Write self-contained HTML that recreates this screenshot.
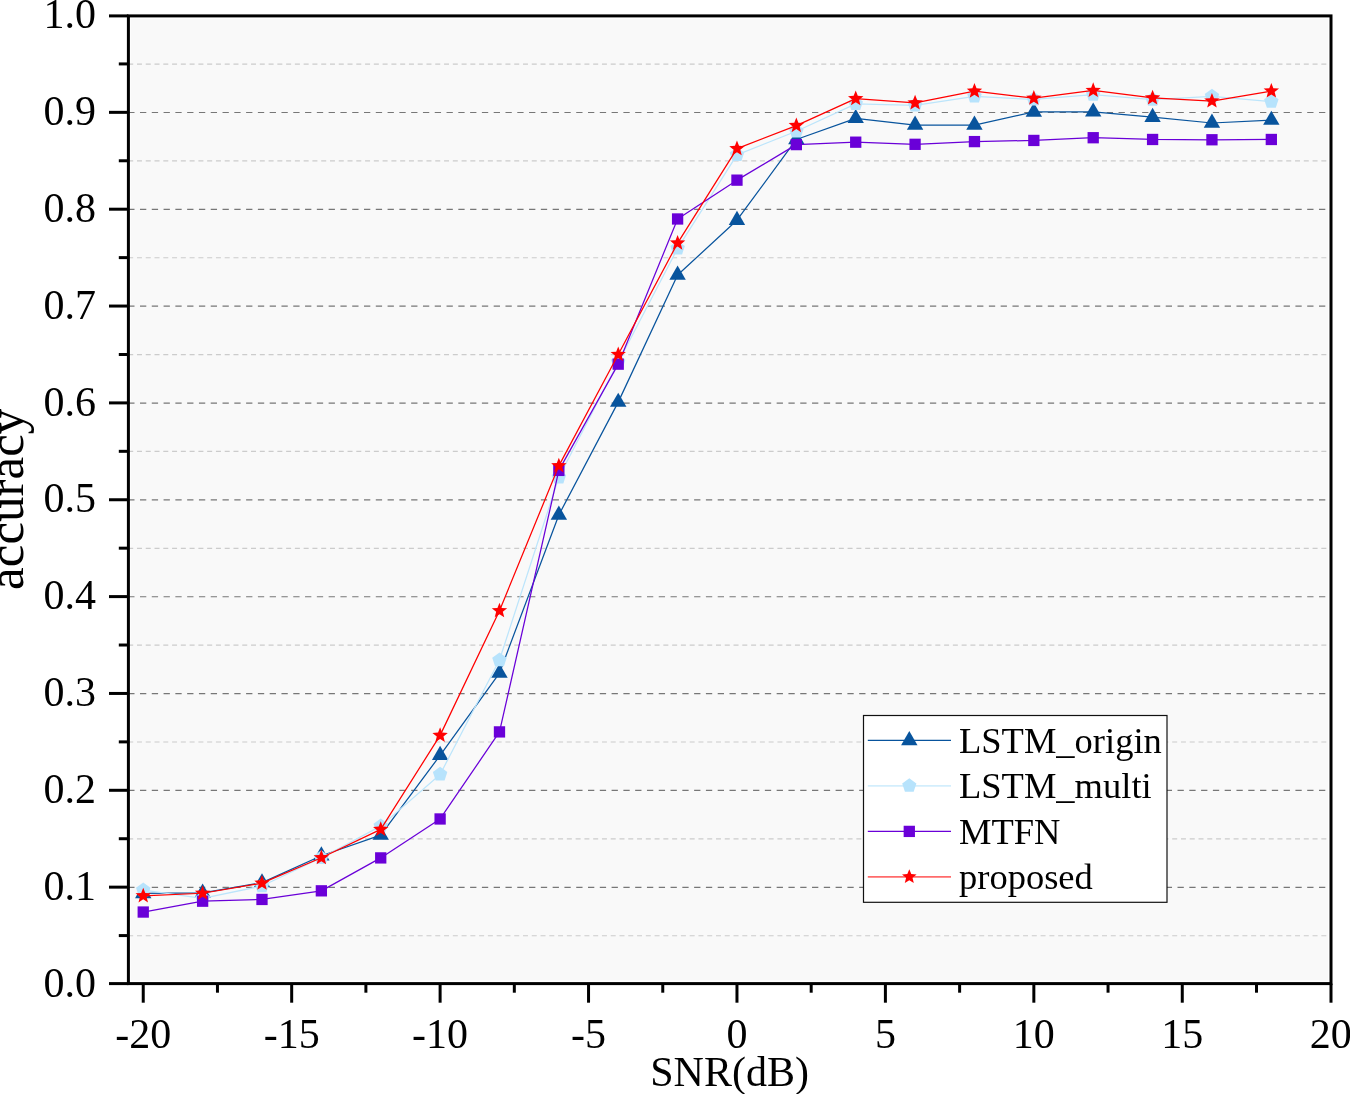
<!DOCTYPE html><html><head><meta charset="utf-8"><style>html,body{margin:0;padding:0;background:#fff;}body{width:1350px;height:1094px;overflow:hidden;}svg{display:block;will-change:transform;}text{font-family:"Liberation Serif",serif;fill:#000;}</style></head><body>
<svg width="1350" height="1094" viewBox="0 0 1350 1094">
<rect x="130.6" y="18.7" width="1197.30" height="962.00" fill="#f9f9f9"/>
<line x1="128.2" x2="1327.9" y1="935.73" y2="935.73" stroke="#cccccc" stroke-width="1.2" stroke-dasharray="5.0 3.773"/>
<line x1="128.2" x2="1327.9" y1="887.30" y2="887.30" stroke="#777777" stroke-width="1.2" stroke-dasharray="6.3 5.49"/>
<line x1="128.2" x2="1327.9" y1="838.88" y2="838.88" stroke="#cccccc" stroke-width="1.2" stroke-dasharray="5.0 3.773"/>
<line x1="128.2" x2="1327.9" y1="790.45" y2="790.45" stroke="#777777" stroke-width="1.2" stroke-dasharray="6.3 5.49"/>
<line x1="128.2" x2="1327.9" y1="742.02" y2="742.02" stroke="#cccccc" stroke-width="1.2" stroke-dasharray="5.0 3.773"/>
<line x1="128.2" x2="1327.9" y1="693.60" y2="693.60" stroke="#777777" stroke-width="1.2" stroke-dasharray="6.3 5.49"/>
<line x1="128.2" x2="1327.9" y1="645.17" y2="645.17" stroke="#cccccc" stroke-width="1.2" stroke-dasharray="5.0 3.773"/>
<line x1="128.2" x2="1327.9" y1="596.75" y2="596.75" stroke="#777777" stroke-width="1.2" stroke-dasharray="6.3 5.49"/>
<line x1="128.2" x2="1327.9" y1="548.33" y2="548.33" stroke="#cccccc" stroke-width="1.2" stroke-dasharray="5.0 3.773"/>
<line x1="128.2" x2="1327.9" y1="499.90" y2="499.90" stroke="#777777" stroke-width="1.2" stroke-dasharray="6.3 5.49"/>
<line x1="128.2" x2="1327.9" y1="451.47" y2="451.47" stroke="#cccccc" stroke-width="1.2" stroke-dasharray="5.0 3.773"/>
<line x1="128.2" x2="1327.9" y1="403.05" y2="403.05" stroke="#777777" stroke-width="1.2" stroke-dasharray="6.3 5.49"/>
<line x1="128.2" x2="1327.9" y1="354.62" y2="354.62" stroke="#cccccc" stroke-width="1.2" stroke-dasharray="5.0 3.773"/>
<line x1="128.2" x2="1327.9" y1="306.20" y2="306.20" stroke="#777777" stroke-width="1.2" stroke-dasharray="6.3 5.49"/>
<line x1="128.2" x2="1327.9" y1="257.77" y2="257.77" stroke="#cccccc" stroke-width="1.2" stroke-dasharray="5.0 3.773"/>
<line x1="128.2" x2="1327.9" y1="209.35" y2="209.35" stroke="#777777" stroke-width="1.2" stroke-dasharray="6.3 5.49"/>
<line x1="128.2" x2="1327.9" y1="160.92" y2="160.92" stroke="#cccccc" stroke-width="1.2" stroke-dasharray="5.0 3.773"/>
<line x1="128.2" x2="1327.9" y1="112.50" y2="112.50" stroke="#777777" stroke-width="1.2" stroke-dasharray="6.3 5.49"/>
<line x1="128.2" x2="1327.9" y1="64.07" y2="64.07" stroke="#cccccc" stroke-width="1.2" stroke-dasharray="5.0 3.773"/>
<polyline points="143.24,893.45 202.62,892.96 261.99,882.60 321.36,855.77 380.73,835.14 440.11,755.34 499.48,673.01 558.85,514.96 618.23,402.13 677.60,275.06 736.97,220.24 796.34,139.47 855.72,118.35 915.09,125.04 974.46,125.04 1033.84,111.96 1093.21,111.87 1152.58,117.19 1211.95,123.00 1271.33,120.10" fill="none" stroke="#08549d" stroke-width="1.25" stroke-linejoin="round"/>
<g fill="#08549d"><polygon points="143.24,883.98 151.44,898.18 135.04,898.18"/><polygon points="202.62,883.49 210.82,897.69 194.42,897.69"/><polygon points="261.99,873.13 270.19,887.33 253.79,887.33"/><polygon points="321.36,846.30 329.56,860.50 313.16,860.50"/><polygon points="380.73,825.67 388.93,839.87 372.53,839.87"/><polygon points="440.11,745.87 448.31,760.07 431.91,760.07"/><polygon points="499.48,663.55 507.68,677.75 491.28,677.75"/><polygon points="558.85,505.49 567.05,519.69 550.65,519.69"/><polygon points="618.23,392.66 626.43,406.86 610.03,406.86"/><polygon points="677.60,265.59 685.80,279.79 669.40,279.79"/><polygon points="736.97,210.77 745.17,224.97 728.77,224.97"/><polygon points="796.34,130.00 804.54,144.20 788.14,144.20"/><polygon points="855.72,108.89 863.92,123.09 847.52,123.09"/><polygon points="915.09,115.57 923.29,129.77 906.89,129.77"/><polygon points="974.46,115.57 982.66,129.77 966.26,129.77"/><polygon points="1033.84,102.50 1042.04,116.70 1025.64,116.70"/><polygon points="1093.21,102.40 1101.41,116.60 1085.01,116.60"/><polygon points="1152.58,107.73 1160.78,121.93 1144.38,121.93"/><polygon points="1211.95,113.54 1220.15,127.74 1203.75,127.74"/><polygon points="1271.33,110.63 1279.53,124.83 1263.13,124.83"/></g>
<polyline points="143.24,890.15 202.62,898.48 261.99,885.99 321.36,857.80 380.73,826.13 440.11,774.42 499.48,660.04 558.85,477.28 618.23,362.22 677.60,248.42 736.97,154.87 796.34,131.24 855.72,103.83 915.09,105.28 974.46,96.47 1033.84,99.47 1093.21,94.63 1152.58,99.57 1211.95,96.27 1271.33,101.70" fill="none" stroke="#bce5fb" stroke-width="1.25" stroke-linejoin="round"/>
<g fill="#b7e3fc"><polygon points="143.24,882.55 150.47,887.80 147.71,896.30 138.78,896.30 136.02,887.80"/><polygon points="202.62,890.88 209.84,896.13 207.08,904.63 198.15,904.63 195.39,896.13"/><polygon points="261.99,878.39 269.22,883.64 266.46,892.14 257.52,892.14 254.76,883.64"/><polygon points="321.36,850.20 328.59,855.46 325.83,863.95 316.89,863.95 314.13,855.46"/><polygon points="380.73,818.53 387.96,823.79 385.20,832.28 376.27,832.28 373.51,823.79"/><polygon points="440.11,766.82 447.34,772.07 444.57,780.57 435.64,780.57 432.88,772.07"/><polygon points="499.48,652.44 506.71,657.69 503.95,666.19 495.01,666.19 492.25,657.69"/><polygon points="558.85,469.68 566.08,474.93 563.32,483.43 554.39,483.43 551.63,474.93"/><polygon points="618.23,354.62 625.45,359.87 622.69,368.37 613.76,368.37 611.00,359.87"/><polygon points="677.60,240.82 684.83,246.08 682.07,254.57 673.13,254.57 670.37,246.08"/><polygon points="736.97,147.27 744.20,152.52 741.44,161.02 732.50,161.02 729.74,152.52"/><polygon points="796.34,123.64 803.57,128.89 800.81,137.38 791.88,137.38 789.12,128.89"/><polygon points="855.72,96.23 862.95,101.48 860.18,109.98 851.25,109.98 848.49,101.48"/><polygon points="915.09,97.68 922.32,102.93 919.56,111.43 910.62,111.43 907.86,102.93"/><polygon points="974.46,88.87 981.69,94.12 978.93,102.62 970.00,102.62 967.23,94.12"/><polygon points="1033.84,91.87 1041.06,97.12 1038.30,105.62 1029.37,105.62 1026.61,97.12"/><polygon points="1093.21,87.03 1100.44,92.28 1097.68,100.77 1088.74,100.77 1085.98,92.28"/><polygon points="1152.58,91.97 1159.81,97.22 1157.05,105.71 1148.11,105.71 1145.35,97.22"/><polygon points="1211.95,88.67 1219.18,93.92 1216.42,102.42 1207.49,102.42 1204.73,93.92"/><polygon points="1271.33,94.10 1278.56,99.35 1275.79,107.85 1266.86,107.85 1264.10,99.35"/></g>
<polyline points="143.24,912.04 202.62,901.19 261.99,899.45 321.36,890.83 380.73,857.90 440.11,818.97 499.48,731.90 558.85,470.40 618.23,364.16 677.60,218.98 736.97,180.15 796.34,144.60 855.72,142.18 915.09,144.31 974.46,141.60 1033.84,140.44 1093.21,137.72 1152.58,139.47 1211.95,139.76 1271.33,139.47" fill="none" stroke="#6a00d8" stroke-width="1.25" stroke-linejoin="round"/>
<g fill="#6a00d8"><rect x="137.59" y="906.39" width="11.30" height="11.30"/><rect x="196.97" y="895.54" width="11.30" height="11.30"/><rect x="256.34" y="893.80" width="11.30" height="11.30"/><rect x="315.71" y="885.18" width="11.30" height="11.30"/><rect x="375.08" y="852.25" width="11.30" height="11.30"/><rect x="434.46" y="813.32" width="11.30" height="11.30"/><rect x="493.83" y="726.25" width="11.30" height="11.30"/><rect x="553.20" y="464.75" width="11.30" height="11.30"/><rect x="612.58" y="358.51" width="11.30" height="11.30"/><rect x="671.95" y="213.33" width="11.30" height="11.30"/><rect x="731.32" y="174.50" width="11.30" height="11.30"/><rect x="790.69" y="138.95" width="11.30" height="11.30"/><rect x="850.07" y="136.53" width="11.30" height="11.30"/><rect x="909.44" y="138.66" width="11.30" height="11.30"/><rect x="968.81" y="135.95" width="11.30" height="11.30"/><rect x="1028.19" y="134.79" width="11.30" height="11.30"/><rect x="1087.56" y="132.07" width="11.30" height="11.30"/><rect x="1146.93" y="133.82" width="11.30" height="11.30"/><rect x="1206.30" y="134.11" width="11.30" height="11.30"/><rect x="1265.68" y="133.82" width="11.30" height="11.30"/></g>
<polyline points="143.24,895.87 202.62,893.25 261.99,883.18 321.36,857.71 380.73,829.43 440.11,735.39 499.48,610.74 558.85,465.85 618.23,354.48 677.60,243.10 736.97,148.67 796.34,125.62 855.72,98.69 915.09,102.96 974.46,91.14 1033.84,98.21 1093.21,90.46 1152.58,97.92 1211.95,101.02 1271.33,91.04" fill="none" stroke="#ff0000" stroke-width="1.25" stroke-linejoin="round"/>
<g fill="#ff0000"><polygon points="143.24,887.77 145.30,893.03 150.95,893.36 146.57,896.95 148.00,902.42 143.24,899.37 138.48,902.42 139.91,896.95 135.54,893.36 141.19,893.03"/><polygon points="202.62,885.15 204.67,890.42 210.32,890.75 205.94,894.33 207.38,899.80 202.62,896.75 197.85,899.80 199.29,894.33 194.91,890.75 200.56,890.42"/><polygon points="261.99,875.08 264.05,880.35 269.69,880.68 265.32,884.26 266.75,889.73 261.99,886.68 257.23,889.73 258.66,884.26 254.29,880.68 259.93,880.35"/><polygon points="321.36,849.61 323.42,854.88 329.07,855.20 324.69,858.79 326.12,864.26 321.36,861.21 316.60,864.26 318.03,858.79 313.66,855.20 319.30,854.88"/><polygon points="380.73,821.33 382.79,826.60 388.44,826.92 384.06,830.51 385.50,835.98 380.73,832.93 375.97,835.98 377.41,830.51 373.03,826.92 378.68,826.60"/><polygon points="440.11,727.29 442.16,732.55 447.81,732.88 443.44,736.47 444.87,741.94 440.11,738.89 435.35,741.94 436.78,736.47 432.40,732.88 438.05,732.55"/><polygon points="499.48,602.64 501.54,607.91 507.18,608.24 502.81,611.82 504.24,617.29 499.48,614.24 494.72,617.29 496.15,611.82 491.78,608.24 497.42,607.91"/><polygon points="558.85,457.75 560.91,463.02 566.56,463.35 562.18,466.93 563.61,472.41 558.85,469.35 554.09,472.41 555.52,466.93 551.15,463.35 556.80,463.02"/><polygon points="618.23,346.38 620.28,351.64 625.93,351.97 621.55,355.56 622.99,361.03 618.23,357.98 613.46,361.03 614.90,355.56 610.52,351.97 616.17,351.64"/><polygon points="677.60,235.00 679.66,240.27 685.30,240.59 680.93,244.18 682.36,249.65 677.60,246.60 672.84,249.65 674.27,244.18 669.90,240.59 675.54,240.27"/><polygon points="736.97,140.57 739.03,145.84 744.68,146.17 740.30,149.75 741.73,155.22 736.97,152.17 732.21,155.22 733.64,149.75 729.27,146.17 734.91,145.84"/><polygon points="796.34,117.52 798.40,122.79 804.05,123.12 799.67,126.70 801.11,132.17 796.34,129.12 791.58,132.17 793.02,126.70 788.64,123.12 794.29,122.79"/><polygon points="855.72,90.59 857.77,95.86 863.42,96.19 859.05,99.78 860.48,105.25 855.72,102.19 850.96,105.25 852.39,99.78 848.01,96.19 853.66,95.86"/><polygon points="915.09,94.86 917.15,100.12 922.79,100.45 918.42,104.04 919.85,109.51 915.09,106.46 910.33,109.51 911.76,104.04 907.39,100.45 913.03,100.12"/><polygon points="974.46,83.04 976.52,88.31 982.17,88.64 977.79,92.22 979.22,97.69 974.46,94.64 969.70,97.69 971.13,92.22 966.76,88.64 972.41,88.31"/><polygon points="1033.84,90.11 1035.89,95.38 1041.54,95.71 1037.16,99.29 1038.60,104.76 1033.84,101.71 1029.07,104.76 1030.51,99.29 1026.13,95.71 1031.78,95.38"/><polygon points="1093.21,82.36 1095.27,87.63 1100.91,87.96 1096.54,91.54 1097.97,97.01 1093.21,93.96 1088.45,97.01 1089.88,91.54 1085.51,87.96 1091.15,87.63"/><polygon points="1152.58,89.82 1154.64,95.09 1160.29,95.42 1155.91,99.00 1157.34,104.47 1152.58,101.42 1147.82,104.47 1149.25,99.00 1144.88,95.42 1150.52,95.09"/><polygon points="1211.95,92.92 1214.01,98.19 1219.66,98.52 1215.28,102.10 1216.72,107.57 1211.95,104.52 1207.19,107.57 1208.63,102.10 1204.25,98.52 1209.90,98.19"/><polygon points="1271.33,82.94 1273.38,88.21 1279.03,88.54 1274.66,92.12 1276.09,97.60 1271.33,94.54 1266.57,97.60 1268.00,92.12 1263.62,88.54 1269.27,88.21"/></g>
<rect x="863.5" y="715.5" width="303.50" height="186.80" fill="#fff" stroke="#111" stroke-width="1.2"/>
<line x1="867.8" x2="951.0" y1="740.4" y2="740.4" stroke="#08549d" stroke-width="1.3"/>
<g fill="#08549d"><polygon points="909.30,730.93 917.50,745.13 901.10,745.13"/></g>
<line x1="867.8" x2="951.0" y1="785.8" y2="785.8" stroke="#d3eefc" stroke-width="1.7"/>
<g fill="#b7e3fc"><polygon points="909.30,778.35 916.39,783.50 913.68,791.83 904.92,791.83 902.21,783.50"/></g>
<line x1="867.8" x2="951.0" y1="831.4" y2="831.4" stroke="#6a00d8" stroke-width="1.3"/>
<g fill="#6a00d8"><rect x="903.65" y="825.75" width="11.30" height="11.30"/></g>
<line x1="867.8" x2="951.0" y1="876.8" y2="876.8" stroke="#ff6b6b" stroke-width="1.7"/>
<g fill="#ff0000"><polygon points="909.30,869.15 911.27,874.09 916.58,874.44 912.49,877.84 913.80,882.99 909.30,880.15 904.80,882.99 906.11,877.84 902.02,874.44 907.33,874.09"/></g>
<text x="959" y="752.60" font-size="36.5">LSTM_origin</text>
<text x="959" y="798.00" font-size="36.5">LSTM_multi</text>
<text x="959" y="843.60" font-size="36.5">MTFN</text>
<text x="959" y="889.00" font-size="36.5">proposed</text>
<rect x="128.4" y="15.9" width="1202.60" height="967.70" fill="none" stroke="#000" stroke-width="3"/>
<line x1="109" x2="128.4" y1="983.60" y2="983.60" stroke="#000" stroke-width="3"/>
<line x1="118.8" x2="128.4" y1="935.58" y2="935.58" stroke="#000" stroke-width="3"/>
<line x1="109" x2="128.4" y1="887.15" y2="887.15" stroke="#000" stroke-width="3"/>
<line x1="118.8" x2="128.4" y1="838.72" y2="838.72" stroke="#000" stroke-width="3"/>
<line x1="109" x2="128.4" y1="790.30" y2="790.30" stroke="#000" stroke-width="3"/>
<line x1="118.8" x2="128.4" y1="741.88" y2="741.88" stroke="#000" stroke-width="3"/>
<line x1="109" x2="128.4" y1="693.45" y2="693.45" stroke="#000" stroke-width="3"/>
<line x1="118.8" x2="128.4" y1="645.02" y2="645.02" stroke="#000" stroke-width="3"/>
<line x1="109" x2="128.4" y1="596.60" y2="596.60" stroke="#000" stroke-width="3"/>
<line x1="118.8" x2="128.4" y1="548.17" y2="548.17" stroke="#000" stroke-width="3"/>
<line x1="109" x2="128.4" y1="499.75" y2="499.75" stroke="#000" stroke-width="3"/>
<line x1="118.8" x2="128.4" y1="451.32" y2="451.32" stroke="#000" stroke-width="3"/>
<line x1="109" x2="128.4" y1="402.90" y2="402.90" stroke="#000" stroke-width="3"/>
<line x1="118.8" x2="128.4" y1="354.48" y2="354.48" stroke="#000" stroke-width="3"/>
<line x1="109" x2="128.4" y1="306.05" y2="306.05" stroke="#000" stroke-width="3"/>
<line x1="118.8" x2="128.4" y1="257.62" y2="257.62" stroke="#000" stroke-width="3"/>
<line x1="109" x2="128.4" y1="209.20" y2="209.20" stroke="#000" stroke-width="3"/>
<line x1="118.8" x2="128.4" y1="160.77" y2="160.77" stroke="#000" stroke-width="3"/>
<line x1="109" x2="128.4" y1="112.35" y2="112.35" stroke="#000" stroke-width="3"/>
<line x1="118.8" x2="128.4" y1="63.92" y2="63.92" stroke="#000" stroke-width="3"/>
<line x1="109" x2="128.4" y1="15.90" y2="15.90" stroke="#000" stroke-width="3"/>
<line x1="143.24" x2="143.24" y1="983.6" y2="1002.7" stroke="#000" stroke-width="3"/>
<line x1="217.46" x2="217.46" y1="983.6" y2="992.7" stroke="#000" stroke-width="3"/>
<line x1="291.68" x2="291.68" y1="983.6" y2="1002.7" stroke="#000" stroke-width="3"/>
<line x1="365.89" x2="365.89" y1="983.6" y2="992.7" stroke="#000" stroke-width="3"/>
<line x1="440.11" x2="440.11" y1="983.6" y2="1002.7" stroke="#000" stroke-width="3"/>
<line x1="514.32" x2="514.32" y1="983.6" y2="992.7" stroke="#000" stroke-width="3"/>
<line x1="588.54" x2="588.54" y1="983.6" y2="1002.7" stroke="#000" stroke-width="3"/>
<line x1="662.76" x2="662.76" y1="983.6" y2="992.7" stroke="#000" stroke-width="3"/>
<line x1="736.97" x2="736.97" y1="983.6" y2="1002.7" stroke="#000" stroke-width="3"/>
<line x1="811.19" x2="811.19" y1="983.6" y2="992.7" stroke="#000" stroke-width="3"/>
<line x1="885.40" x2="885.40" y1="983.6" y2="1002.7" stroke="#000" stroke-width="3"/>
<line x1="959.62" x2="959.62" y1="983.6" y2="992.7" stroke="#000" stroke-width="3"/>
<line x1="1033.84" x2="1033.84" y1="983.6" y2="1002.7" stroke="#000" stroke-width="3"/>
<line x1="1108.05" x2="1108.05" y1="983.6" y2="992.7" stroke="#000" stroke-width="3"/>
<line x1="1182.27" x2="1182.27" y1="983.6" y2="1002.7" stroke="#000" stroke-width="3"/>
<line x1="1256.48" x2="1256.48" y1="983.6" y2="992.7" stroke="#000" stroke-width="3"/>
<line x1="1331.00" x2="1331.00" y1="983.6" y2="1002.7" stroke="#000" stroke-width="3"/>
<text x="96" y="996.60" font-size="42" text-anchor="end">0.0</text>
<text x="96" y="899.75" font-size="42" text-anchor="end">0.1</text>
<text x="96" y="802.90" font-size="42" text-anchor="end">0.2</text>
<text x="96" y="706.05" font-size="42" text-anchor="end">0.3</text>
<text x="96" y="609.20" font-size="42" text-anchor="end">0.4</text>
<text x="96" y="512.35" font-size="42" text-anchor="end">0.5</text>
<text x="96" y="415.50" font-size="42" text-anchor="end">0.6</text>
<text x="96" y="318.65" font-size="42" text-anchor="end">0.7</text>
<text x="96" y="221.80" font-size="42" text-anchor="end">0.8</text>
<text x="96" y="124.95" font-size="42" text-anchor="end">0.9</text>
<text x="96" y="28.10" font-size="42" text-anchor="end">1.0</text>
<text x="143.24" y="1047.6" font-size="42" text-anchor="middle">-20</text>
<text x="291.68" y="1047.6" font-size="42" text-anchor="middle">-15</text>
<text x="440.11" y="1047.6" font-size="42" text-anchor="middle">-10</text>
<text x="588.54" y="1047.6" font-size="42" text-anchor="middle">-5</text>
<text x="736.97" y="1047.6" font-size="42" text-anchor="middle">0</text>
<text x="885.40" y="1047.6" font-size="42" text-anchor="middle">5</text>
<text x="1033.84" y="1047.6" font-size="42" text-anchor="middle">10</text>
<text x="1182.27" y="1047.6" font-size="42" text-anchor="middle">15</text>
<text x="1330.70" y="1047.6" font-size="42" text-anchor="middle">20</text>
<text x="729.55" y="1086" font-size="42" text-anchor="middle">SNR(dB)</text>
<text transform="translate(23.3,499.3) rotate(-90)" font-size="51" text-anchor="middle">accuracy</text>
</svg></body></html>
